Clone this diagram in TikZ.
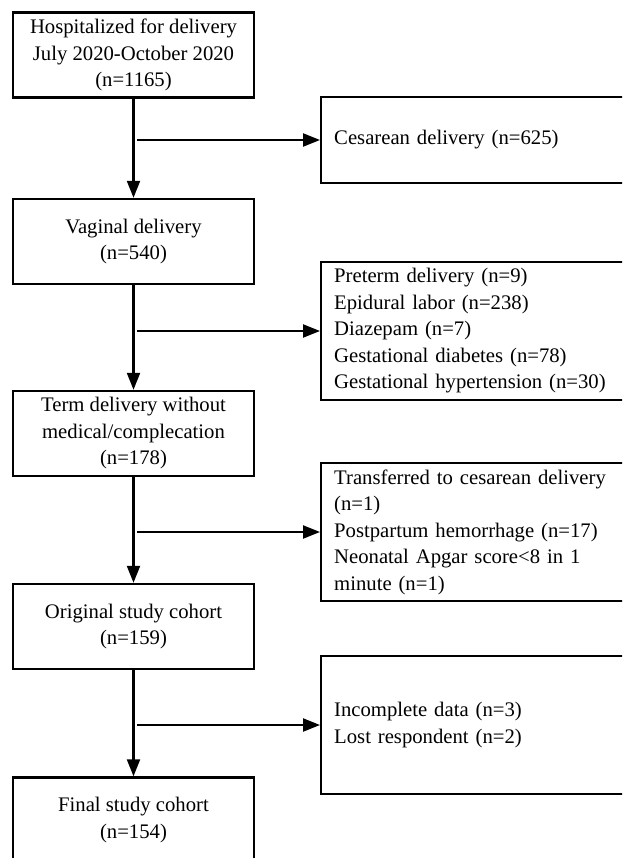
\documentclass[tikz,border=0pt]{standalone}
\usepackage{fontspec}
\setmainfont{Liberation Serif}
\usetikzlibrary{arrows.meta}
\tikzset{
  lbox/.style={draw=black, line width=2.4pt, minimum width=241pt, minimum height=85pt, align=center, inner sep=0pt, font=\fontsize{20.7}{26.5}\selectfont},
  rbox/.style={draw=black, line width=2.4pt, anchor=west, minimum width=330pt, inner xsep=13pt, inner ysep=0pt, text width=304pt, align=left, font=\fontsize{20.7}{26.5}\selectfont},
  arr/.style={draw=black, line width=2.2pt, -{Triangle[length=17pt,width=13pt]}}
}
\begin{document}
\begin{tikzpicture}[x=1pt,y=-1pt]
\clip (0,0) rectangle (622,858);
\fill[white] (0,0) rectangle (622,858);
\node[lbox] (b1) at (133.5,55) {Hospitalized for delivery\\July 2020-October 2020\\(n=1165)};
\node[lbox] (b2) at (133.5,241.5) {Vaginal delivery\\(n=540)};
\node[lbox] (b3) at (133.5,433.5) {Term delivery without\\medical/complecation\\(n=178)};
\node[lbox] (b4) at (133.5,626.5) {Original study cohort\\(n=159)};
\node[lbox] (b5) at (133.5,820) {Final study cohort\\(n=154)};
\node[rbox, minimum height=86pt] (r1) at (320,140) {Cesarean delivery (n=625)};
\node[rbox, minimum height=138pt] (r2) at (320,331) {Preterm delivery (n=9)\\Epidural labor (n=238)\\Diazepam (n=7)\\Gestational diabetes (n=78)\\Gestational hypertension (n=30)};
\node[rbox, minimum height=138pt] (r3) at (320,532) {Transferred to cesarean delivery\\(n=1)\\Postpartum hemorrhage (n=17)\\Neonatal Apgar score<8 in 1\\minute (n=1)};
\node[rbox, minimum height=138pt] (r4) at (320,725) {Incomplete data (n=3)\\Lost respondent (n=2)};
\draw[arr] (b1) -- (b2);
\draw[arr] (b2) -- (b3);
\draw[arr] (b3) -- (b4);
\draw[arr] (b4) -- (b5);
\coordinate (j1) at (137,140);
\coordinate (j2) at (137,331);
\coordinate (j3) at (137,532);
\coordinate (j4) at (137,725);
\draw[arr] (j1) -- (r1.west);
\draw[arr] (j2) -- (r2.west);
\draw[arr] (j3) -- (r3.west);
\draw[arr] (j4) -- (r4.west);
\end{tikzpicture}
\end{document}
